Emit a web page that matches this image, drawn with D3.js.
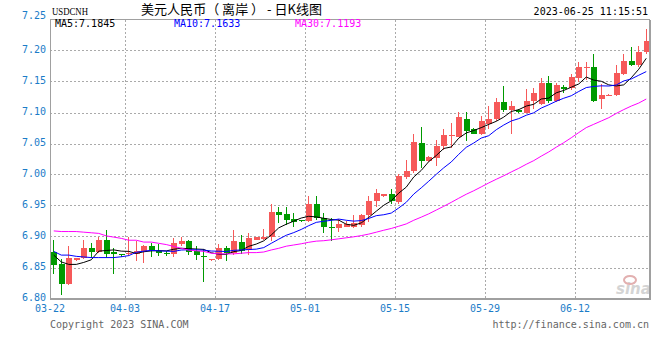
<!DOCTYPE html>
<html>
<head>
<meta charset="utf-8">
<script src="https://d3js.org/d3.v7.min.js"></script>
<style>
  body { margin: 0; background: #fff; }
  svg { display: block; }
</style>
</head>
<body>
<div id="kline"></div>
<script>
// daily candles 03-22 .. 06-22 (USDCNH)
var opens  = [6.875,6.855,6.824,6.862,6.865,6.881,6.875,6.894,6.875,6.872,
              6.871,6.872,6.876,6.885,6.877,6.874,6.872,6.888,6.893,6.877,
              6.869,6.862,6.863,6.882,6.874,6.891,6.878,6.895,6.896,6.900,
              6.939,6.937,6.929,6.926,6.925,6.953,6.930,6.916,6.913,6.916,
              6.916,6.918,6.935,6.957,6.965,6.969,6.955,6.996,7.005,7.051,
              7.021,7.027,7.046,7.062,7.061,7.090,7.073,7.066,7.082,7.089,
              7.117,7.104,7.104,7.100,7.118,7.114,7.147,7.118,7.141,7.139,
              7.155,7.172,7.173,7.121,7.127,7.128,7.162,7.183,7.176,7.198];
var highs  = [6.894,6.863,6.884,6.866,6.895,6.889,6.899,6.911,6.882,6.872,
              6.900,6.893,6.886,6.890,6.888,6.877,6.898,6.899,6.895,6.885,
              6.880,6.864,6.888,6.885,6.911,6.903,6.906,6.900,6.912,6.952,
              6.947,6.947,6.938,6.927,6.966,6.965,6.938,6.930,6.928,6.925,
              6.935,6.936,6.965,6.976,6.969,6.976,7.001,7.024,7.065,7.077,
              7.030,7.055,7.074,7.083,7.101,7.101,7.075,7.095,7.111,7.124,
              7.142,7.118,7.106,7.138,7.140,7.156,7.159,7.148,7.144,7.162,
              7.182,7.182,7.195,7.146,7.130,7.176,7.194,7.206,7.207,7.234];
var lows   = [6.839,6.806,6.822,6.861,6.863,6.866,6.874,6.866,6.839,6.867,
              6.869,6.861,6.858,6.867,6.868,6.869,6.867,6.884,6.870,6.862,
              6.826,6.861,6.862,6.860,6.870,6.871,6.870,6.894,6.894,6.893,
              6.921,6.919,6.915,6.924,6.923,6.926,6.905,6.893,6.907,6.915,
              6.914,6.916,6.924,6.948,6.964,6.952,6.952,6.992,7.003,7.010,
              7.020,7.013,7.040,7.043,7.060,7.054,7.065,7.064,7.073,7.086,
              7.101,7.065,7.100,7.099,7.106,7.112,7.116,7.117,7.132,7.137,
              7.150,7.153,7.117,7.105,7.126,7.127,7.160,7.175,7.174,7.194];
var closes = [6.854,6.824,6.866,6.866,6.881,6.875,6.894,6.871,6.871,6.871,
              6.873,6.877,6.885,6.878,6.873,6.871,6.890,6.893,6.875,6.870,
              6.868,6.863,6.881,6.874,6.892,6.877,6.897,6.899,6.900,6.939,
              6.935,6.926,6.924,6.925,6.953,6.930,6.915,6.914,6.920,6.920,
              6.921,6.935,6.958,6.970,6.968,6.957,6.997,7.006,7.052,7.021,
              7.028,7.046,7.063,7.064,7.092,7.070,7.066,7.086,7.090,7.117,
              7.104,7.111,7.101,7.119,7.131,7.147,7.118,7.144,7.138,7.157,
              7.173,7.174,7.119,7.129,7.128,7.164,7.183,7.176,7.198,7.216];

// MA values before a full window exists
var ma5Head  = [6.870,6.859,6.855,6.855];
var ma10Head = [6.876,6.870,6.870,6.868,6.867,6.866,6.866,6.866,6.866];
var ma30Head = [6.909,6.908,6.908,6.908,6.907,6.906,6.905,6.901,6.899,6.897,
                6.894,6.894,6.891,6.891,6.889,6.887,6.884,6.881,6.878,6.877,
                6.876,6.873,6.872,6.872,6.872,6.873,6.874,6.874,6.875];

var tickLabels = ["03-22","04-03","04-17","05-01","05-15","05-29","06-12"];
var tickIdx    = [0,10,22,34,46,58,70];
var yTicks     = [6.80,6.85,6.90,6.95,7.00,7.05,7.10,7.15,7.20,7.25];

var maNames  = ["MA5:7.1845","MA10:7.1633","MA30:7.1193"];
var maColors = ["#000000","#0000ff","#ff00ff"];

var width = 660, height = 360;
var plot = {left:50, right:650, top:19.5, bottom:298.5};
var color = {up:"#f65959", down:"#009a00", grid:"#aaaaaa", frame:"#a0a0a0", axis:"#1b7cc8"};
var mono = "'DejaVu Sans Mono', monospace";

var svg = d3.select("#kline").append("svg")
    .attr("width", width)
    .attr("height", height);

var x = d3.scaleBand()
    .domain(d3.range(closes.length))
    .range([plot.left, plot.right])
    .padding(0);

var y = d3.scaleLinear()
    .domain([6.80, 7.25])
    .range([plot.bottom, plot.top]);

// grid
var g_grid = svg.append("g").attr("shape-rendering","crispEdges");
g_grid.selectAll("line.h")
    .data(yTicks.slice(1, -1))
    .enter().append("line")
    .attr("x1", plot.left).attr("x2", plot.right)
    .attr("y1", function(d){ return Math.round(y(d)) + 0.5; })
    .attr("y2", function(d){ return Math.round(y(d)) + 0.5; })
    .style("stroke", color.grid)
    .style("stroke-dasharray", "2,2");
g_grid.selectAll("line.v")
    .data(tickIdx.slice(1))
    .enter().append("line")
    .attr("x1", function(d){ return Math.round(x(d)) + 0.5; })
    .attr("x2", function(d){ return Math.round(x(d)) + 0.5; })
    .attr("y1", plot.top).attr("y2", plot.bottom)
    .style("stroke", color.grid)
    .style("stroke-dasharray", "2,2");

// watermark
var g_logo = svg.append("g").attr("transform","translate(616,294)");
g_logo.append("text")
    .text("sina")
    .attr("x",0).attr("y",0)
    .style("font-family","'DejaVu Sans', sans-serif")
    .style("font-weight","bold")
    .style("font-style","italic")
    .style("font-size","15px")
    .style("fill","#d4d4d4");
g_logo.append("ellipse")
    .attr("cx",14).attr("cy",-14).attr("rx",6).attr("ry",4)
    .style("fill","none")
    .style("stroke","#e2b0b0")
    .style("stroke-width",2);

// candles
var cw = 6;
var g_candle = svg.append("g").attr("shape-rendering","crispEdges");
var candles = g_candle.selectAll("g")
    .data(closes)
    .enter().append("g");

candles.append("line")
    .attr("x1", function(d,i){ return Math.round(x(i)) + 3.5; })
    .attr("x2", function(d,i){ return Math.round(x(i)) + 3.5; })
    .attr("y1", function(d,i){ return y(highs[i]); })
    .attr("y2", function(d,i){ return y(lows[i]); })
    .style("stroke", function(d,i){ return d >= opens[i] ? color.up : color.down; })
    .style("stroke-width", 1);

candles.append("rect")
    .attr("x", function(d,i){ return Math.round(x(i)) + 1; })
    .attr("width", cw)
    .attr("y", function(d,i){ return y(Math.max(d, opens[i])); })
    .attr("height", function(d,i){ return Math.max(1, Math.abs(y(d) - y(opens[i]))); })
    .style("fill", function(d,i){ return d >= opens[i] ? color.up : color.down; });

// moving averages
function movingAvg(n, head){
    return closes.map(function(d,i){
        if(i < n-1) return head[i];
        return d3.mean(closes.slice(i-n+1, i+1));
    });
}
var maSeries = [movingAvg(5, ma5Head), movingAvg(10, ma10Head), movingAvg(30, ma30Head)];

var line = d3.line()
    .x(function(d,i){ return x(i) + x.bandwidth()/2; })
    .y(function(d){ return y(d); });

svg.append("g").selectAll("path")
    .data(maSeries)
    .enter().append("path")
    .attr("d", line)
    .style("fill","none")
    .style("stroke", function(d,i){ return maColors[i]; })
    .style("stroke-width", 1);

// frame
var g_frame = svg.append("g").attr("shape-rendering","crispEdges");
g_frame.append("line")
    .attr("x1", plot.left).attr("x2", plot.right)
    .attr("y1", plot.top).attr("y2", plot.top)
    .style("stroke", color.frame);
g_frame.append("line")
    .attr("x1", plot.left + 0.5).attr("x2", plot.left + 0.5)
    .attr("y1", plot.top).attr("y2", plot.bottom + 1)
    .style("stroke", color.frame).style("stroke-width", 1.5);
g_frame.append("line")
    .attr("x1", plot.right - 0.5).attr("x2", plot.right - 0.5)
    .attr("y1", plot.top).attr("y2", plot.bottom + 1)
    .style("stroke", color.frame).style("stroke-width", 2);
g_frame.append("line")
    .attr("x1", plot.left).attr("x2", plot.right)
    .attr("y1", plot.bottom + 0.5).attr("y2", plot.bottom + 0.5)
    .style("stroke", color.frame).style("stroke-width", 2);

// y labels
svg.append("g").selectAll("text")
    .data(yTicks)
    .enter().append("text")
    .text(function(d){ return d3.format(".2f")(d); })
    .attr("x", 46)
    .attr("y", function(d){ return y(d) + 2 + (d === 7.25 ? -3 : 0); })
    .attr("text-anchor","end")
    .style("font-family", mono)
    .style("font-size","10px")
    .style("fill", color.axis);

// x labels
svg.append("g").selectAll("text")
    .data(tickLabels)
    .enter().append("text")
    .text(function(d){ return d; })
    .attr("x", function(d,i){ return x(tickIdx[i]); })
    .attr("y", 312)
    .attr("text-anchor","middle")
    .style("font-family", mono)
    .style("font-size","10px")
    .style("fill", color.axis);

// header
svg.append("text")
    .text("USDCNH")
    .attr("x", 52).attr("y", 15)
    .attr("textLength", 36).attr("lengthAdjust","spacingAndGlyphs")
    .style("font-family","'Liberation Serif', serif")
    .style("font-size","11px")
    .style("fill","#000");
svg.append("text")
    .text("美元人民币（ 离岸 ） - 日K线图")
    .attr("x", 141).attr("y", 14)
    .attr("textLength", 181).attr("lengthAdjust","spacingAndGlyphs")
    .style("font-family","'Noto Sans CJK SC', sans-serif")
    .style("font-size","13px")
    .style("fill","#000");
svg.append("text")
    .text("2023-06-25 11:15:51")
    .attr("x", 648).attr("y", 15)
    .attr("text-anchor","end")
    .style("font-family", mono)
    .style("font-size","10px")
    .style("fill","#000");

var maX = [55, 174, 295];
svg.append("g").selectAll("text")
    .data(maNames)
    .enter().append("text")
    .text(function(d){ return d; })
    .attr("x", function(d,i){ return maX[i]; })
    .attr("y", 27)
    .style("font-family", mono)
    .style("font-size","10px")
    .style("fill", function(d,i){ return maColors[i]; });

// footer
svg.append("text")
    .text("Copyright 2023 SINA.COM")
    .attr("x", 50).attr("y", 328)
    .style("font-family", mono)
    .style("font-size","10px")
    .style("fill","#666");
svg.append("text")
    .text("http://finance.sina.com.cn")
    .attr("x", 649).attr("y", 328)
    .attr("text-anchor","end")
    .style("font-family", mono)
    .style("font-size","10px")
    .style("fill","#666");
</script>
</body>
</html>
